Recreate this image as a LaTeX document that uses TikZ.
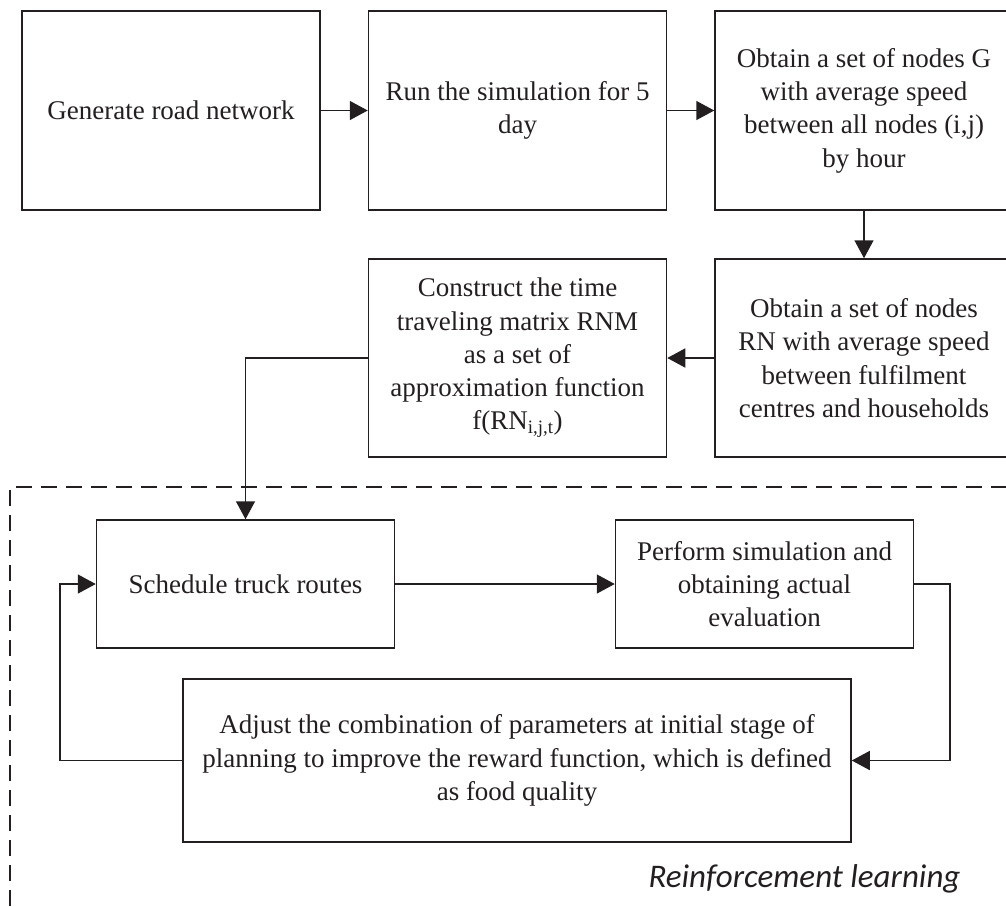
\documentclass[tikz,border=0pt]{standalone}
\usepackage{fontspec}
\setmainfont{Liberation Serif}
\newfontfamily\labelfont{Carlito}
\usetikzlibrary{arrows.meta}
\definecolor{ink}{HTML}{231F20}
\begin{document}
\begin{tikzpicture}[x=1pt,y=-1pt,
  box/.style={draw=ink, line width=1.5pt, rectangle, inner sep=0pt, align=center,
    text=ink, font=\fontsize{27}{33.3}\selectfont},
  wide/.style={minimum width=298pt},
  flow/.style={draw=ink, line width=1.5pt, -{Triangle[length=18pt,width=19pt]}},
  frame/.style={draw=ink, line width=1.4pt, dash pattern=on 16pt off 9pt},
  ]
\useasboundingbox (0,0) rectangle (1006,906);
\clip (0,0) rectangle (1006,906);

% top row
\node[box, wide, minimum height=199pt] (gen) at (171,110.5) {Generate road network};
\node[box, wide, minimum height=199pt] (run) at (517.5,110.5) {Run the simulation for 5\\day};
\node[box, wide, minimum height=199pt] (obt) at (864,110.5)
  {Obtain a set of nodes G\\with average speed\\between all nodes (i,j)\\by hour};

% second row
\node[box, wide, minimum height=198pt] (rn) at (864,358)
  {Obtain a set of nodes\\RN with average speed\\between fulfilment\\centres and households};
\node[box, wide, minimum height=198pt] (con) at (517.5,358)
  {Construct the time\\traveling matrix RNM\\as a set of\\approximation function\\f(RN\textsubscript{i,j,t})};

% reinforcement learning loop
\node[box, wide, minimum height=128pt] (sched) at (245.5,584) {Schedule truck routes};
\node[box, wide, minimum height=128pt] (perf) at (764.5,584)
  {Perform simulation and\\obtaining actual\\evaluation};
\node[box, minimum width=668pt, minimum height=163pt] (adj) at (517,760.5)
  {Adjust the combination of parameters at initial stage of\\planning to improve the reward function, which is defined\\as food quality};

\coordinate (loopR) at (950,584);
\coordinate (loopL) at (60,760.5);

% dashed frame of the learning stage
\draw[frame] (10,906) -- (10,487) -- (1006,487);

% connectors
\draw[flow] (gen) -- (run);
\draw[flow] (run) -- (obt);
\draw[flow] (obt) -- (rn);
\draw[flow] (rn) -- (con);
\draw[flow] (con.west) -| (sched.north);
\draw[flow] (sched) -- (perf);
\draw[flow] (perf.east) -- (loopR) |- (adj.east);
\draw[flow] (adj.west) -- (loopL) |- (sched.west);

\node[font=\labelfont\itshape\fontsize{33}{39}\selectfont, text=ink, anchor=base, inner sep=0pt]
  (rl) at (804.5,887) {Reinforcement learning};
\end{tikzpicture}
\end{document}
